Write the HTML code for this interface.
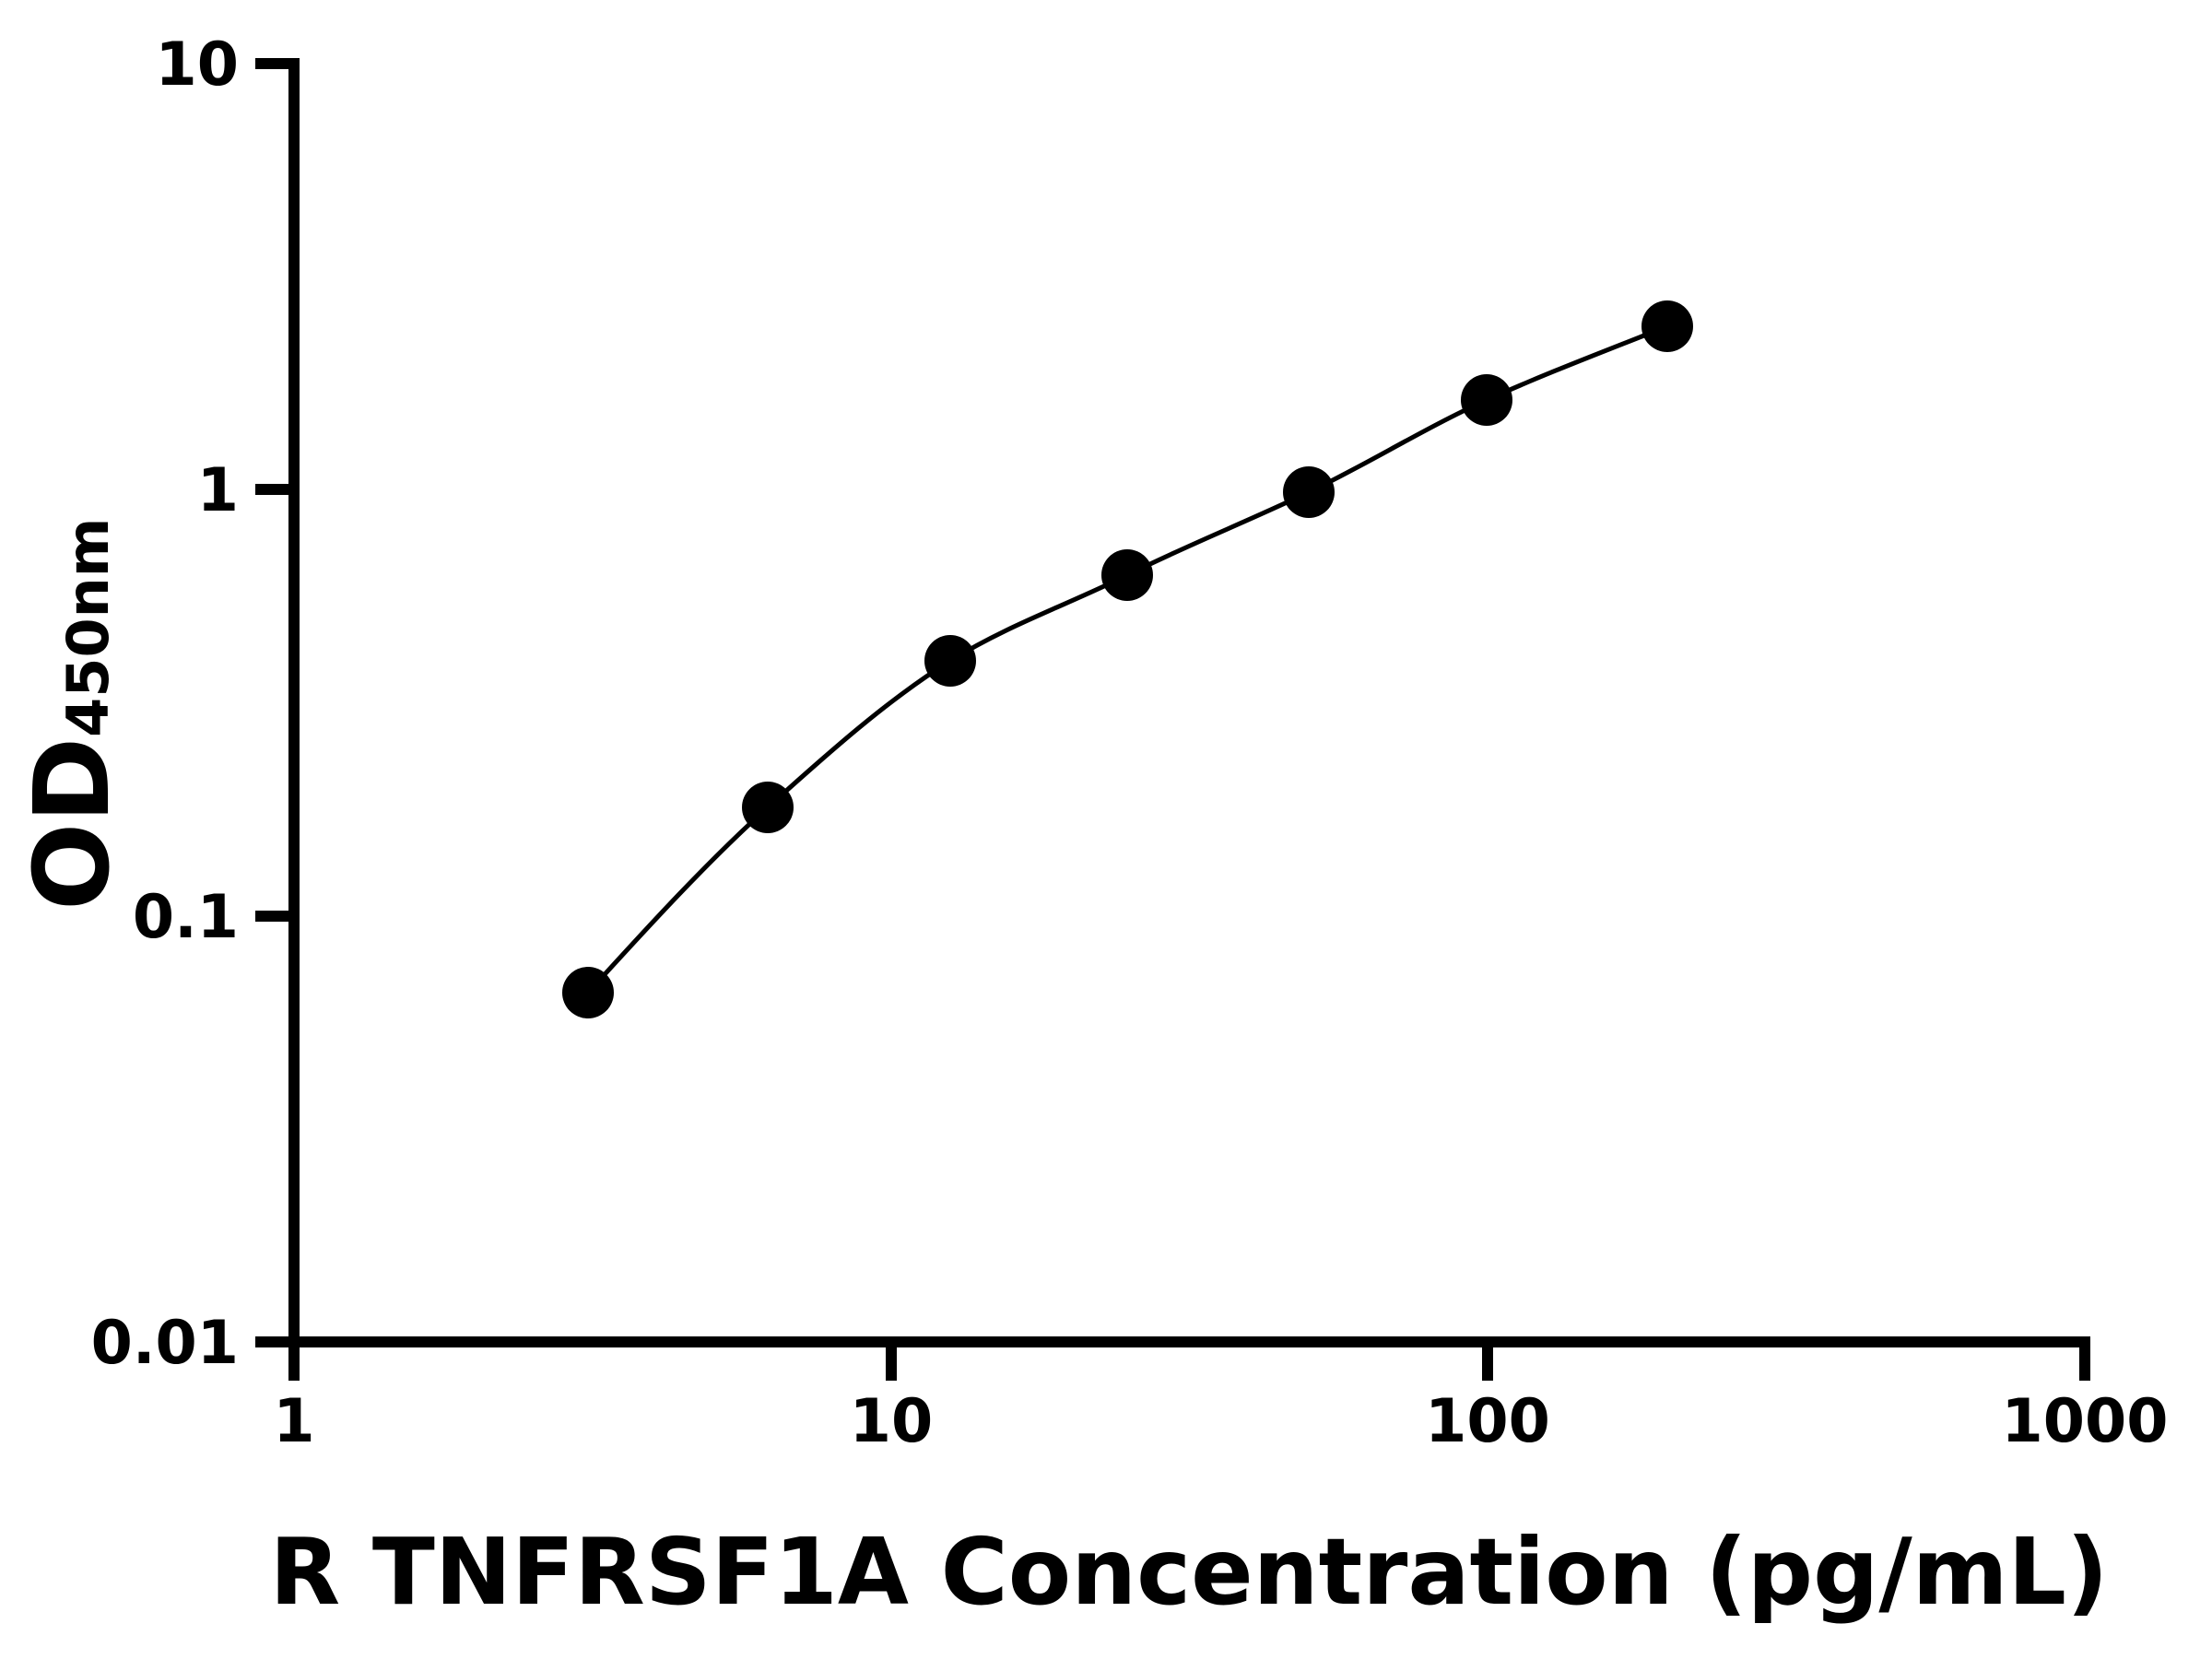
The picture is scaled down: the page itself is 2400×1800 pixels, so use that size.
<!DOCTYPE html>
<html><head><style>body{margin:0;background:#fff}svg{display:block}</style></head>
<body>
<svg width="2400" height="1800" viewBox="0 0 2400 1800" xmlns="http://www.w3.org/2000/svg" font-family="'DejaVu Sans','Liberation Sans',sans-serif" font-weight="bold">
<rect width="2400" height="1800" fill="#fff"/>
<g stroke="#000" stroke-width="12" fill="none">
<line x1="319" y1="63" x2="319" y2="1462"/>
<line x1="313" y1="1456" x2="2268" y2="1456"/>
<line x1="277" y1="69" x2="319" y2="69"/>
<line x1="277" y1="531" x2="319" y2="531"/>
<line x1="277" y1="994" x2="319" y2="994"/>
<line x1="277" y1="1456" x2="319" y2="1456"/>
<line x1="319" y1="1456" x2="319" y2="1498"/>
<line x1="967" y1="1456" x2="967" y2="1498"/>
<line x1="1614" y1="1456" x2="1614" y2="1498"/>
<line x1="2262" y1="1456" x2="2262" y2="1498"/>
</g>
<g font-size="65" text-anchor="end">
<text x="259" y="92">10</text>
<text x="259" y="554">1</text>
<text x="259" y="1017">0.1</text>
<text x="259" y="1479">0.01</text>
</g>
<g font-size="65" text-anchor="middle">
<text x="319" y="1564">1</text>
<text x="967" y="1564">10</text>
<text x="1614" y="1564">100</text>
<text x="2262" y="1564">1000</text>
</g>
<text x="1290" y="1740" font-size="100" text-anchor="middle" textLength="1995" lengthAdjust="spacingAndGlyphs">R TNFRSF1A Concentration (pg/mL)</text>
<text transform="translate(117,988) rotate(-90)" font-size="112">OD<tspan font-size="62">450nm</tspan></text>
<path d="M638,1077 C703,1005.5 768,934.5 833,876 C899,816.6 965,757.9 1031,717 C1095,677.3 1159,656 1223,624 C1288.7,591.2 1354.3,565.5 1420,534 C1484.3,503.1 1548.7,462.9 1613,434 C1678.3,404.6 1743.7,380.1 1809,354" stroke="#000" stroke-width="5" fill="none"/>
<g fill="#000">
<circle cx="638" cy="1077" r="28"/>
<circle cx="833" cy="876" r="28"/>
<circle cx="1031" cy="717" r="28"/>
<circle cx="1223" cy="624" r="28"/>
<circle cx="1420" cy="534" r="28"/>
<circle cx="1613" cy="434" r="28"/>
<circle cx="1809" cy="354" r="28"/>
</g>
</svg>
</body></html>
